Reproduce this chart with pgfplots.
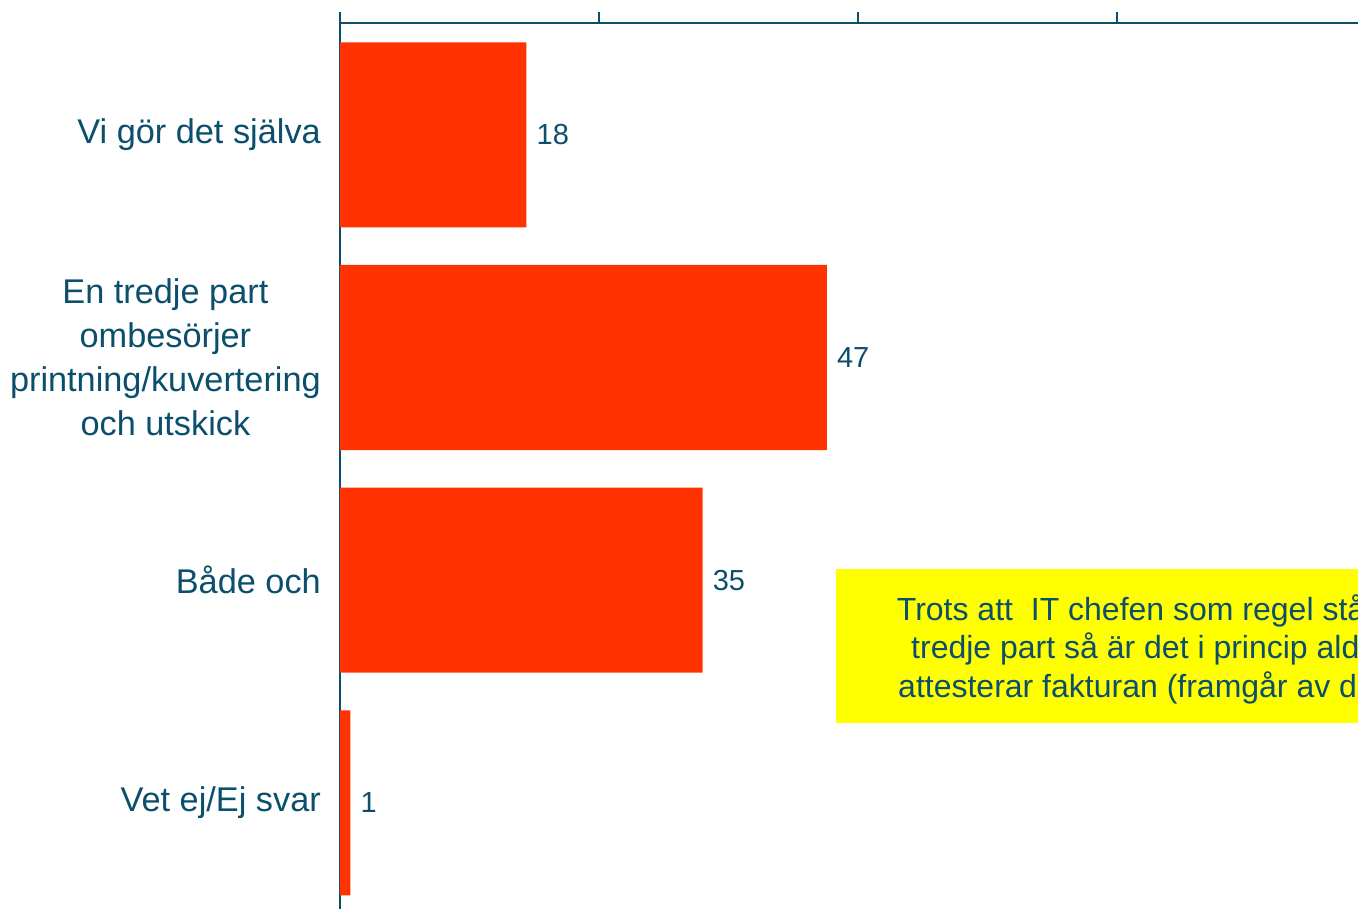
\documentclass[border=0pt]{standalone}
\usepackage{pgfplots}
\pgfplotsset{compat=1.18}
\usepackage{fontspec}
\setmainfont{Liberation Sans}
\definecolor{tealtxt}{HTML}{0B4F6C}
\definecolor{barred}{HTML}{FF3300}
\definecolor{boxyellow}{HTML}{FFFF00}
\begin{document}
\begin{tikzpicture}[x=1pt,y=1pt]
\useasboundingbox (0,0) rectangle (1358,909);
\clip (0,0) rectangle (1358,909);
\begin{axis}[
  at={(340pt,885.5pt)}, anchor=north west,
  scale only axis, width=1036pt, height=890.7pt,
  xmin=0, xmax=100, ymin=-0.5, ymax=3.5,
  axis x line*=top, axis y line*=left,
  axis line style={line width=2pt, tealtxt},
  xtick={0,25,50,75,100}, xticklabels={},
  tick align=outside, major tick length=11pt,
  xtick style={line width=2pt, tealtxt},
  ytick={0,1,2,3}, ytick style={draw=none},
  yticklabels={{Vet ej/Ej svar},{Både och},{En tredje part\\ombesörjer\\printning/kuvertering\\och utskick},{Vi gör det själva}},
  yticklabel style={align=center, font=\fontsize{34.3}{44}\selectfont, text=tealtxt, inner sep=0pt, xshift=-8pt},
  /pgf/number format/assume math mode=true,
  xbar, bar width=185pt,
  nodes near coords,
  nodes near coords style={anchor=west, inner sep=0pt, xshift=10pt, font=\fontsize{29}{30}\selectfont, text=tealtxt},
  clip=false,
]
\addplot[fill=barred, draw=none] coordinates {(1,0) (35,1) (47,2) (18,3)};
\end{axis}
\fill[boxyellow] (836,186.3) rectangle (1400,340);
\begin{scope}[every node/.style={anchor=base west, inner sep=0pt, text=tealtxt, font=\fontsize{32}{38}\selectfont}]
\node at (896.7,288) {Trots att\ \ IT chefen som regel står};
\node at (911,250.5) {tredje part så är det i princip aldrig};
\node at (898,211.7) {attesterar fakturan (framgår av det};
\end{scope}
\end{tikzpicture}
\end{document}
